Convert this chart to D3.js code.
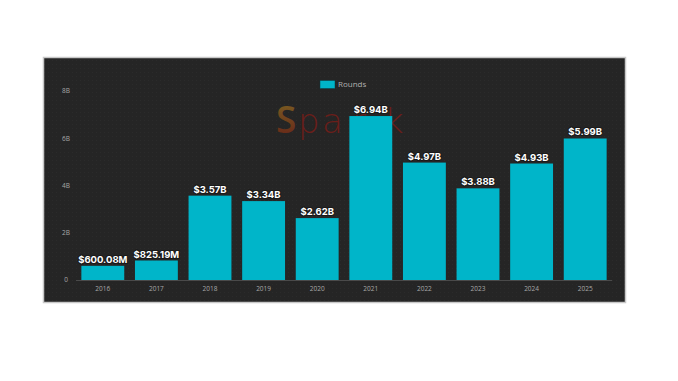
<!DOCTYPE html>
<html><head><meta charset="utf-8">
<script src="https://cdn.jsdelivr.net/npm/d3@7"></script>
<style>body{margin:0;background:#fff;}svg{display:block;}</style>
</head><body>
<svg id="c" width="678" height="381"></svg>
<script>
const years = ["2016","2017","2018","2019","2020","2021","2022","2023","2024","2025"];
const rounds = [0.60008,0.82519,3.57,3.34,2.62,6.94,4.97,3.88,4.93,5.99];
const valueLabels = ["$600.08M","$825.19M","$3.57B","$3.34B","$2.62B","$6.94B","$4.97B","$3.88B","$4.93B","$5.99B"];
const yTicks = [0,2,4,6,8];
const yTickLabels = ["0","2B","4B","6B","8B"];
const seriesName = "Rounds";

const svg = d3.select("#c");
const defs = svg.append("defs");
const pat = defs.append("pattern").attr("id","dots").attr("width",4).attr("height",4).attr("patternUnits","userSpaceOnUse");
pat.append("rect").attr("width",4).attr("height",4).attr("fill","#252525");
pat.append("rect").attr("width",1).attr("height",1).attr("fill","#2b2b2b");
const grad = defs.append("linearGradient").attr("id","sg").attr("x1","0").attr("y1","0").attr("x2","0").attr("y2","1");
grad.append("stop").attr("offset","0%").attr("stop-color","#7e6a24");
grad.append("stop").attr("offset","100%").attr("stop-color","#641c16");

svg.append("rect").attr("x",43.5).attr("y",57.5).attr("width",582).attr("height",245)
  .attr("fill","url(#dots)").attr("stroke","#c8c8c8").attr("stroke-width",1.5);

const x = d3.scaleBand().domain(years).range([76,612]).paddingInner(0.2).paddingOuter(0.1);
const y = d3.scaleLinear().domain([0,8]).range([280,91]);

// watermark
const wm = svg.append("g");
wm.append("text").attr("x",276).attr("y",133).attr("font-family","'Open Sans', sans-serif").attr("font-size",37).attr("font-weight",600)
  .attr("fill","url(#sg)").text("S");
const letters = [["p",298],["a",322],["r",352],["k",384]];
wm.selectAll("text.wl").data(letters).join("text").attr("class","wl")
  .attr("x",d=>d[1]).attr("y",133).attr("font-family","'DejaVu Sans', sans-serif").attr("font-size",34).attr("font-weight",200)
  .attr("fill","#6a1e1a").text(d=>d[0]);

// axis line
svg.append("line").attr("x1",76).attr("x2",612).attr("y1",y(0)+0.5).attr("y2",y(0)+0.5).attr("stroke","#4a4a4a").attr("stroke-width",1);

// bars
svg.selectAll("rect.bar").data(years).join("rect").attr("class","bar")
  .attr("x",d=>x(d)).attr("width",x.bandwidth())
  .attr("y",(d,i)=>y(rounds[i])).attr("height",(d,i)=>y(0)-y(rounds[i]))
  .attr("fill","#00b5c9");

// y tick labels
svg.selectAll("text.yt").data(yTicks).join("text").attr("class","yt")
  .attr("x",66).attr("y",d=>y(d)).attr("dy","0.35em").attr("text-anchor","middle")
  .attr("font-family","'Open Sans', sans-serif").attr("font-size",6.5).attr("fill","#a8a8a8")
  .text((d,i)=>yTickLabels[i]);

// x tick labels
svg.selectAll("text.xt").data(years).join("text").attr("class","xt")
  .attr("x",d=>x(d)+x.bandwidth()/2).attr("y",291).attr("text-anchor","middle")
  .attr("font-family","'Open Sans', sans-serif").attr("font-size",6.5).attr("fill","#a8a8a8")
  .text(d=>d);

// value labels
svg.selectAll("text.vl").data(years).join("text").attr("class","vl")
  .attr("x",d=>x(d)+x.bandwidth()/2).attr("y",(d,i)=>y(rounds[i])-3).attr("text-anchor","middle")
  .attr("font-family","Inter, 'Open Sans', sans-serif").attr("font-weight",700).attr("font-size",9.5)
  .attr("fill","#ffffff").attr("stroke","#1a1a1a").attr("stroke-width",2).attr("paint-order","stroke")
  .text((d,i)=>valueLabels[i]);

// legend
svg.append("rect").attr("x",320).attr("y",80.5).attr("width",15).attr("height",8).attr("fill","#00b5c9").attr("stroke","#0a3a40").attr("stroke-width",0.5);
svg.append("text").attr("x",338).attr("y",84.5).attr("dy","0.35em").attr("font-family","'Open Sans', sans-serif")
  .attr("font-size",8).attr("fill","#b0b0b0").text(seriesName);
</script>
</body></html>
